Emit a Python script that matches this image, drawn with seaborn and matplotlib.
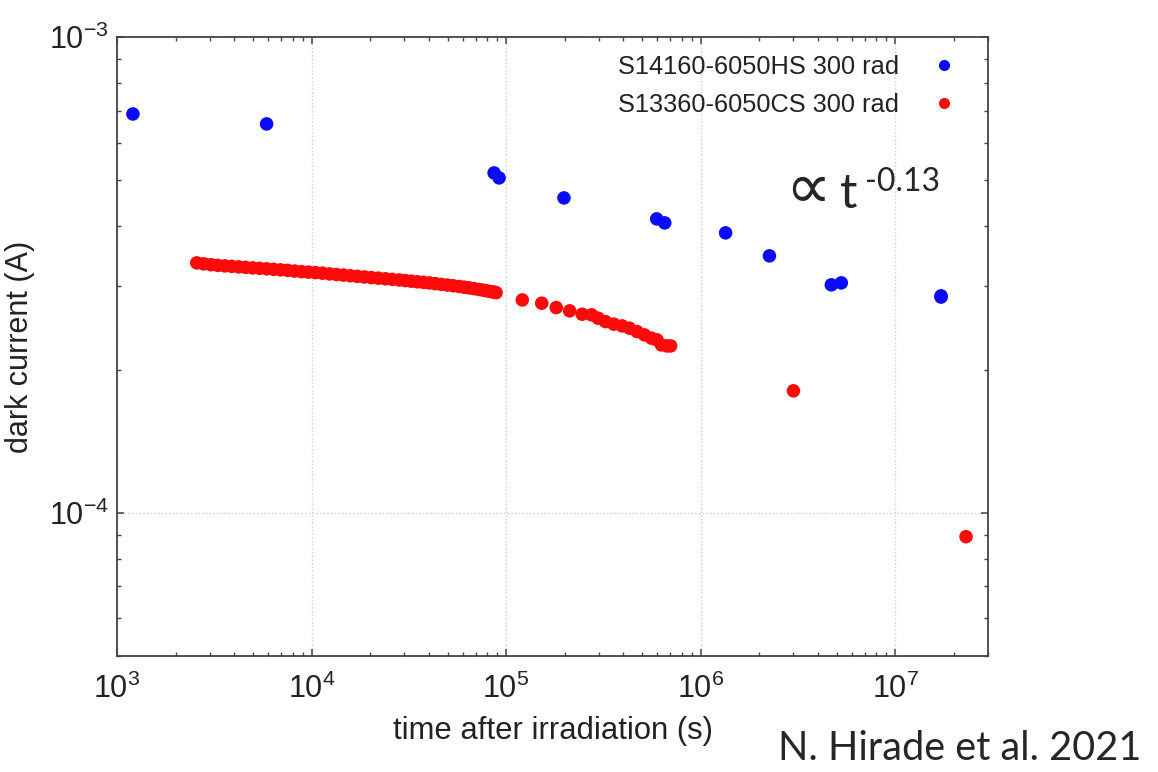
import numpy as np
import pandas as pd
import seaborn as sns
import matplotlib.pyplot as plt
from matplotlib.lines import Line2D
from matplotlib.ticker import LogLocator, FuncFormatter, NullFormatter

# S14160-6050HS 300 rad (blue)
hs_time = [1208, 5878, 86800, 92060, 1.984e5, 5.948e5, 6.538e5, 1.344e6,
           2.258e6, 4.697e6, 5.285e6, 1.721e7, 1.721e7]
hs_current = [6.889e-4, 6.566e-4, 5.179e-4, 5.056e-4, 4.589e-4, 4.146e-4,
              4.067e-4, 3.875e-4, 3.467e-4, 3.013e-4, 3.042e-4, 2.857e-4, 2.84e-4]

# S13360-6050CS 300 rad (red)
cs_time = [2572, 2794, 3035, 3296, 3580, 3889, 4224, 4587, 4983, 5412,
           5878, 6385, 6935, 7532, 8181, 8886, 9652, 10480, 11390, 12370,
           13440, 14590, 15850, 17220, 18700, 20310, 22060, 23960, 26030, 28270,
           30350, 32570, 34970, 37540, 40290, 43250, 46420, 49830, 53490, 57410,
           60900, 64610, 68530, 72680, 76220, 79900, 83780, 86800, 88860,
           1.212e5, 1.525e5, 1.811e5, 2.122e5, 2.462e5, 2.751e5, 2.974e5, 3.245e5,
           3.580e5, 3.948e5, 4.309e5, 4.714e5, 5.145e5, 5.588e5, 5.969e5, 6.288e5,
           6.716e5, 7.016e5,
           3.0e6, 2.313e7]
cs_current = [3.351e-4, 3.335e-4, 3.322e-4, 3.311e-4, 3.303e-4, 3.295e-4, 3.287e-4,
              3.279e-4, 3.271e-4, 3.264e-4, 3.256e-4, 3.248e-4, 3.240e-4, 3.232e-4,
              3.221e-4, 3.212e-4, 3.204e-4, 3.197e-4, 3.188e-4, 3.177e-4, 3.168e-4,
              3.159e-4, 3.148e-4, 3.139e-4, 3.130e-4, 3.121e-4, 3.112e-4, 3.103e-4,
              3.094e-4, 3.085e-4, 3.076e-4, 3.067e-4, 3.058e-4, 3.050e-4, 3.041e-4,
              3.031e-4, 3.020e-4, 3.010e-4, 3.000e-4, 2.989e-4, 2.979e-4, 2.969e-4,
              2.958e-4, 2.946e-4, 2.937e-4, 2.926e-4, 2.916e-4, 2.909e-4, 2.902e-4,
              2.801e-4, 2.757e-4, 2.699e-4, 2.657e-4, 2.614e-4, 2.606e-4, 2.564e-4,
              2.522e-4, 2.491e-4, 2.470e-4, 2.443e-4, 2.403e-4, 2.365e-4, 2.328e-4,
              2.308e-4, 2.253e-4, 2.242e-4, 2.242e-4,
              1.804e-4, 8.905e-5]

labels = ["S14160-6050HS 300 rad", "S13360-6050CS 300 rad"]
colors = ["#0a0aff", "#ff0a0a"]

sns.set_style("ticks")
plt.rcParams['font.family'] = ['Liberation Sans', 'DejaVu Sans']
plt.rcParams['mathtext.fontset'] = 'custom'
plt.rcParams['mathtext.rm'] = 'Liberation Sans'

df = pd.concat([
    pd.DataFrame({"time": hs_time, "current": hs_current, "device": labels[0]}),
    pd.DataFrame({"time": cs_time, "current": cs_current, "device": labels[1]}),
])

fig = plt.figure(figsize=(11.58, 7.72), dpi=100)
ax = fig.add_axes([0.101, 0.1503, 0.7522, 0.8018])

sns.scatterplot(data=df, x="time", y="current", hue="device",
                palette=dict(zip(labels, colors)), s=95, edgecolor="none",
                legend=False, ax=ax, zorder=3)

ax.set_xscale("log")
ax.set_yscale("log")
ax.set_xlim(1e3, 3e7)
ax.set_ylim(5e-5, 1e-3)

ax.xaxis.set_major_locator(LogLocator(base=10, numticks=10))
ax.yaxis.set_major_locator(LogLocator(base=10, numticks=10))
ax.xaxis.set_minor_locator(LogLocator(base=10, subs=np.arange(2, 10), numticks=20))
ax.yaxis.set_minor_locator(LogLocator(base=10, subs=np.arange(2, 10), numticks=20))
fmt = FuncFormatter(lambda v, p: r"$\mathregular{10^{%d}}$" % int(round(np.log10(v))))
ax.xaxis.set_major_formatter(fmt)
ax.yaxis.set_major_formatter(fmt)
ax.xaxis.set_minor_formatter(NullFormatter())
ax.yaxis.set_minor_formatter(NullFormatter())

ax.tick_params(which="both", direction="in", top=True, right=True, color="#444444")
ax.tick_params(which="major", length=5, width=1.1, labelsize=22, labelcolor="#222222")
ax.tick_params(which="minor", length=3, width=1.0)
ax.tick_params(axis="x", which="major", pad=13)
ax.tick_params(axis="y", which="major", pad=6)

for sp in ax.spines.values():
    sp.set_color("#444444")
    sp.set_linewidth(1.3)

ax.grid(True, which="major", color="#cccccc", linestyle=":", linewidth=1.0)

ax.set_xlabel("time after irradiation (s)", fontsize=22.3, color="#222222", labelpad=8)
ax.set_ylabel("dark current (A)", fontsize=22, color="#222222", labelpad=10)

handles = [Line2D([], [], marker="o", linestyle="", color=c, markersize=7) for c in colors]
ax.legend(handles, labels, loc="upper right", bbox_to_anchor=(0.985, 1.0),
          frameon=False, markerfirst=False, fontsize=18.3, labelspacing=0.55,
          handletextpad=1.3, handlelength=1.0, borderaxespad=0.3,
          labelcolor="#222222")

fig.text(0.678, 0.731, "\u221d", fontsize=46, family=["DejaVu Sans"],
         va="baseline", ha="left")
fig.text(0.725, 0.731, "t", fontsize=35, family=["Lato", "DejaVu Sans"],
         va="baseline", ha="left")
fig.text(0.747, 0.752, "-0.13", fontsize=23, family=["Lato", "DejaVu Sans"],
         va="baseline", ha="left")
fig.text(0.672, 0.016, "N. Hirade et al. 2021", fontsize=28.6,
         family=["Lato", "DejaVu Sans"], va="baseline", ha="left")

plt.savefig("out.png", dpi=100)
